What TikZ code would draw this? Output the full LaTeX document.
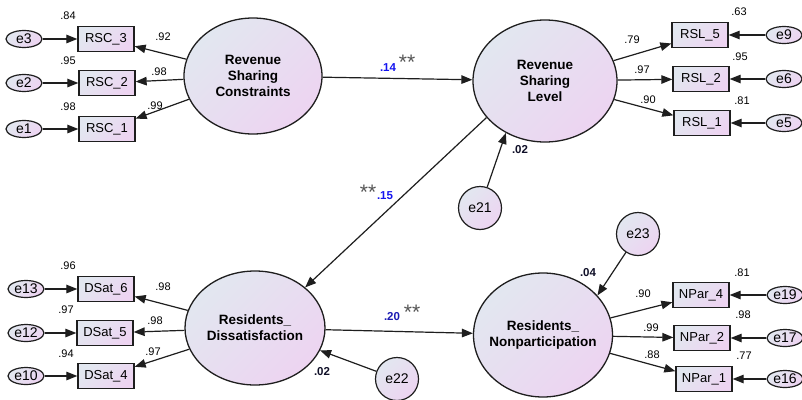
\documentclass[tikz,border=0pt]{standalone}
\usepackage{fontspec}
\setmainfont{Liberation Sans}
\usetikzlibrary{arrows.meta,shapes.geometric}
\definecolor{ga}{HTML}{E2E7F0}
\definecolor{gb}{HTML}{EDD4F1}
\definecolor{ln}{HTML}{1E1E1E}
\definecolor{blu}{HTML}{1414F0}
\definecolor{blu2}{HTML}{1A1AB4}
\definecolor{ast}{HTML}{555555}
\definecolor{dk}{HTML}{101028}
\tikzset{
  grad/.style={left color=ga, right color=gb, shading angle=45},
  latent/.style={ellipse, draw=ln, line width=1.3pt, inner sep=0pt, grad},
  ltxt/.style={font=\bfseries\fontsize{13.5}{16}\selectfont, align=center, text=black, inner sep=0pt},
  obs/.style={rectangle, draw=ln, line width=1.3pt, minimum width=56pt, minimum height=25pt, inner sep=0pt, grad, font=\fontsize{13}{15}\selectfont},
  err/.style={ellipse, draw=ln, line width=1.2pt, minimum width=36pt, minimum height=17pt, inner sep=0pt, grad, font=\fontsize{14}{16}\selectfont},
  errc/.style={circle, draw=ln, line width=1.2pt, minimum size=43pt, inner sep=0pt, grad, font=\fontsize{14}{16}\selectfont},
  arr/.style={-{Triangle[length=11pt,width=8.5pt]}, line width=1.2pt, draw=ln},
  num/.style={font=\fontsize{11}{12}\selectfont, inner sep=0pt, text=black},
  bnum/.style={font=\bfseries\fontsize{11.5}{12}\selectfont, inner sep=0pt},
  stars/.style={font=\fontsize{21}{21}\selectfont, inner sep=0pt, text=ast}
}
\begin{document}
\begin{tikzpicture}[x=1pt,y=-1pt]
\useasboundingbox[fill=white] (0,0) rectangle (802,399);
% latent variables
\node[latent, minimum width=138pt, minimum height=116pt] (rsc) at (253,76) {};
\node[ltxt] (rsct) at (rsc) {Revenue\\Sharing\\Constraints};
\node[latent, minimum width=144pt, minimum height=122pt] (rsl) at (545,81) {};
\node[ltxt] (rslt) at (rsl) {Revenue\\Sharing\\Level};
\node[latent, minimum width=140pt, minimum height=114pt] (rd) at (255,328) {};
\node[ltxt] (rdt) at (rd) {Residents\_\\Dissatisfaction};
\node[latent, minimum width=139pt, minimum height=124pt] (rn) at (543,335) {};
\node[ltxt] (rnt) at (rn) {Residents\_\\Nonparticipation};
% observed, left top
\node[obs] (rsc3) at (106,39) {RSC\_3};
\node[obs] (rsc2) at (107,83) {RSC\_2};
\node[obs] (rsc1) at (107,129) {RSC\_1};
\node[err] (e3) at (24,39) {e3};
\node[err] (e2) at (24,83) {e2};
\node[err] (e1) at (24,129) {e1};
% observed, right top
\node[obs] (rsl5) at (700,35) {RSL\_5};
\node[obs] (rsl2) at (701,79) {RSL\_2};
\node[obs] (rsl1) at (702,123) {RSL\_1};
\node[err] (e9) at (784,35) {e9};
\node[err] (e6) at (784,79) {e6};
\node[err] (e5) at (784,123) {e5};
% observed, left bottom
\node[obs] (ds6) at (106,289) {DSat\_6};
\node[obs] (ds5) at (105,333) {DSat\_5};
\node[obs] (ds4) at (106,376) {DSat\_4};
\node[err] (e13) at (26,289) {e13};
\node[err] (e12) at (26,333) {e12};
\node[err] (e10) at (26,376) {e10};
% observed, right bottom
\node[obs] (np4) at (701,295) {NPar\_4};
\node[obs] (np2) at (702,338) {NPar\_2};
\node[obs] (np1) at (704,379) {NPar\_1};
\node[err] (e19) at (785,295) {e19};
\node[err] (e17) at (785,338) {e17};
\node[err] (e16) at (785,379) {e16};
% disturbances
\node[errc] (e21) at (480,208) {e21};
\node[errc] (e22) at (397,379) {e22};
\node[errc] (e23) at (638,234) {e23};
% arrows
\foreach \a/\b in {e3/rsc3,e2/rsc2,e1/rsc1,e9/rsl5,e6/rsl2,e5/rsl1,e13/ds6,e12/ds5,e10/ds4,e19/np4,e17/np2,e16/np1,
  rsc/rsc3,rsc/rsc2,rsc/rsc1,rsl/rsl5,rsl/rsl2,rsl/rsl1,rd/ds6,rd/ds5,rd/ds4,rn/np4,rn/np2,rn/np1,rsc/rsl,rd/rn}
  \draw[arr] (\a) -- (\b);
\draw[arr] (rsl.212) -- (rd.39);
\draw[arr] (e21) -- (rsl.233);
\draw[arr] (e22) -- (rd.341);
\draw[arr] (e23) -- (rn.36);
% loadings
\node[num] (l1) at (68,16) {.84};
\node[num] (l2) at (163,37) {.92};
\node[num] (l3) at (68,61) {.95};
\node[num] (l4) at (159,72) {.98};
\node[num] (l5) at (68,107) {.98};
\node[num] (l6) at (155,106) {.99};
\node[num] (l7) at (739,12) {.63};
\node[num] (l8) at (632,40) {.79};
\node[num] (l9) at (740,57) {.95};
\node[num] (l10) at (642,70) {.97};
\node[num] (l11) at (648,100) {.90};
\node[num] (l12) at (742,101) {.81};
\node[num] (l13) at (68,266) {.96};
\node[num] (l14) at (163,287) {.98};
\node[num] (l15) at (66,310) {.97};
\node[num] (l16) at (155,321) {.98};
\node[num] (l17) at (66,354) {.94};
\node[num] (l18) at (153,352) {.97};
\node[num] (l19) at (742,273) {.81};
\node[num] (l20) at (643,294) {.90};
\node[num] (l21) at (743,315) {.98};
\node[num] (l22) at (651,328) {.99};
\node[num] (l23) at (652,355) {.88};
\node[num] (l24) at (744,356) {.77};
% structural
\node[bnum, text=blu] (p1) at (388,68) {.14};
\node[stars] (s1) at (407,62) {**};
\node[bnum, text=blu] (p2) at (385,196) {.15};
\node[stars] (s2) at (368,192) {**};
\node[bnum, text=blu2] (p3) at (392,317) {.20};
\node[stars] (s3) at (412,312.5) {**};
\node[bnum, text=dk] (r1) at (520,150) {.02};
\node[bnum, text=dk] (r2) at (322,372) {.02};
\node[bnum, text=dk] (r3) at (588,273) {.04};
\end{tikzpicture}
\end{document}
